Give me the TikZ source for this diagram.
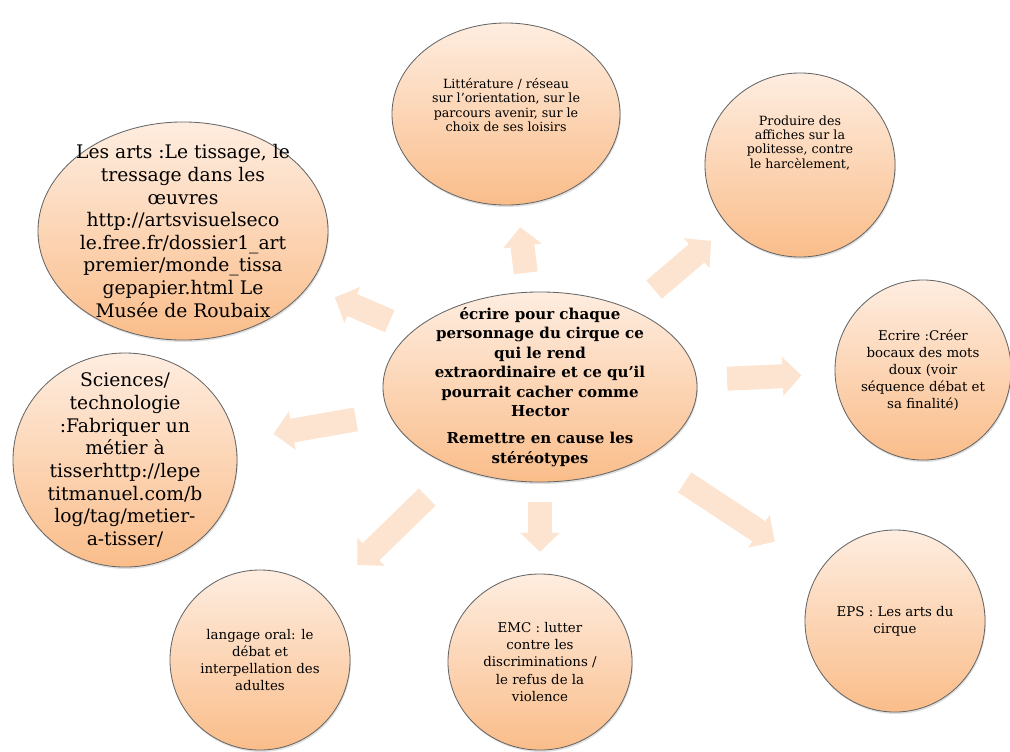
\documentclass[tikz,border=0pt]{standalone}
\usepackage{fontspec}
\setmainfont{DejaVu Serif}
\usepackage{tikz}
\usetikzlibrary{shapes.geometric, arrows.meta, shadows}
\usepackage{xcolor}
\definecolor{peachtop}{RGB}{254,237,224}
\definecolor{peachbot}{RGB}{250,189,138}
\definecolor{arrowpeach}{RGB}{252,228,209}
\tikzstyle{bubble} = [ellipse, inner sep=-2cm, draw=black!60, line width=0.6pt, top color=peachtop, bottom color=peachbot, align=center, drop shadow={shadow xshift=0.6pt, shadow yshift=-1.4pt, opacity=0.25}]
\tikzstyle{smalltext} = [font=\fontsize{9}{10.1}\selectfont]
\tikzstyle{midtext} = [font=\fontsize{9.5}{12.1}\selectfont]
\tikzstyle{bigtext} = [font=\fontsize{13.3}{16.1}\selectfont]
\tikzstyle{spoke} = [line width=0.6cm, draw=arrowpeach, -{Triangle[width=0.95cm, length=0.475cm]}]

\begin{document}
\begin{tikzpicture}[x=0.025cm, y=-0.025cm]
  \useasboundingbox (0,0) rectangle (1010,751);
  \node[bubble, minimum width=7.85cm, minimum height=4.75cm, font=\bfseries\fontsize{10.7}{13.8}\selectfont] (hub) at (540,387) {écrire pour chaque\\personnage du cirque ce\\qui le rend\\extraordinaire et ce qu’il\\pourrait cacher comme\\Hector\\[0.2cm]Remettre en cause les\\stéréotypes};
  \node[bubble, smalltext, minimum width=5.7cm, minimum height=4.55cm] (lit) at (506,114) {Littérature / réseau\\sur l’orientation, sur le\\parcours avenir, sur le\\choix de ses loisirs\\[0.1cm]\mbox{}};
  \node[bubble, smalltext, minimum width=4.75cm, minimum height=4.6cm] (prod) at (800,165) {Produire des\\affiches sur la\\politesse, contre\\le harcèlement,\\[0.8cm]\mbox{}};
  \node[bubble, bigtext, minimum width=7.25cm, minimum height=5.45cm] (arts) at (183,231) {Les arts :Le tissage, le\\tressage dans les\\œuvres\\http://artsvisuelseco\\le.free.fr/dossier1\_art\\premier/monde\_tissa\\gepapier.html Le\\Musée de Roubaix};
  \node[bubble, bigtext, minimum width=5.6cm, minimum height=5.35cm] (sci) at (125,460) {Sciences/\\technologie\\:Fabriquer un\\métier à\\tisserhttp://lepe\\titmanuel.com/b\\log/tag/metier-\\a-tisser/};
  \node[bubble, midtext, minimum width=4.4cm, minimum height=4.5cm] (ecr) at (923,370) {Ecrire :Créer\\bocaux des mots\\doux (voir\\séquence débat et\\sa finalité)};
  \node[bubble, midtext, minimum width=4.5cm, minimum height=4.5cm] (lang) at (260,660) {langage oral: le\\débat et\\interpellation des\\adultes};
  \node[bubble, midtext, minimum width=4.6cm, minimum height=4.4cm] (emc) at (540,662) {EMC : lutter\\contre les\\discriminations /\\le refus de la\\violence};
  \node[bubble, midtext, minimum width=4.5cm, minimum height=4.55cm] (eps) at (895,621) {EPS : Les arts du\\cirque};

  \draw[spoke, shorten <=2.875cm, shorten >=2.85cm] (hub.center) -- (lit.center);
  \draw[spoke, shorten <=3.75cm, shorten >=2.92cm] (hub.center) -- (prod.center);
  \draw[spoke, shorten <=4.1cm, shorten >=4.14cm] (hub.center) -- (arts.center);
  \draw[spoke, shorten <=4.67cm, shorten >=3.77cm] (hub.center) -- (sci.center);
  \draw[spoke, shorten <=4.68cm, shorten >=3.04cm] (hub.center) -- (ecr.center);
  \draw[spoke, shorten <=3.94cm, shorten >=3.4cm] (hub.center) -- (lang.center);
  \draw[spoke, shorten <=2.875cm, shorten >=2.75cm] (hub.center) -- (emc.center);
  \draw[spoke, shorten <=4.33cm, shorten >=3.6cm] (hub.center) -- (eps.center);
\end{tikzpicture}
\end{document}
